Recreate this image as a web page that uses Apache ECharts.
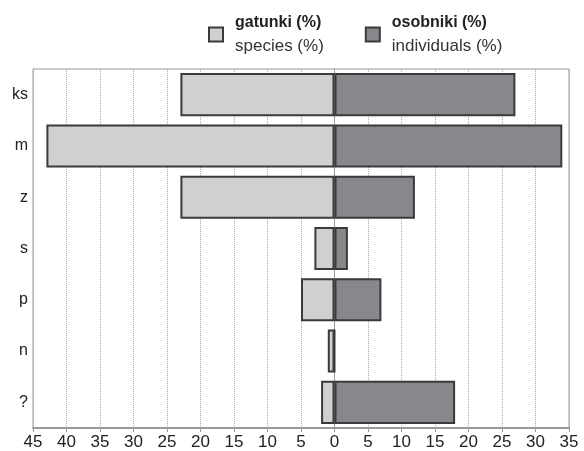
<!DOCTYPE html>
<html>
<head>
<meta charset="utf-8">
<script src="https://cdn.jsdelivr.net/npm/echarts@6/dist/echarts.min.js"></script>
<style>html,body{margin:0;padding:0;background:#fff}#c{width:584px;height:451px}</style>
</head>
<body>
<div id="c"></div>
<script>
const categories = ['ks', 'm', 'z', 's', 'p', 'n', '?'];
const speciesPct = [23, 43, 23, 3, 5, 1, 2];      // gatunki (%)
const individualsPct = [27, 34, 12, 2, 7, 0, 18]; // osobniki (%)
const seriesNames = ['gatunki (%)\nspecies (%)', 'osobniki (%)\nindividuals (%)'];

const chart = echarts.init(document.getElementById('c'), null, {renderer: 'canvas'});
const font = '"Liberation Sans", Arial, sans-serif';
chart.setOption({
  animation: false,
  textStyle: {fontFamily: font},
  legend: {
    top: 10,
    left: 203,
    itemWidth: 14,
    itemHeight: 14,
    itemGap: 41,
    icon: 'rect',
    data: seriesNames,
    formatter: function (name) {
      const parts = name.split('\n');
      return '{b|' + parts[0] + '}\n{n|' + parts[1] + '}';
    },
    textStyle: {
      padding: [0, 0, 0, 7],
      rich: {
        b: {fontSize: 16, fontWeight: 'bold', color: '#222', fontFamily: font, lineHeight: 23},
        n: {fontSize: 17, color: '#333', fontFamily: font, lineHeight: 23}
      }
    }
  },
  grid: {left: 33, right: 15, top: 69, bottom: 20, show: true, borderColor: '#999', borderWidth: 1},
  xAxis: {
    type: 'value',
    min: -45,
    max: 35,
    interval: 5,
    axisLine: {show: true, lineStyle: {color: '#999', width: 2}},
    axisTick: {show: true, length: 4, lineStyle: {color: '#999'}},
    splitLine: {show: true, lineStyle: {color: '#aaa', type: 'dotted', width: 1}},
    axisLabel: {
      fontSize: 17, color: '#222', margin: 6, fontFamily: font,
      formatter: v => String(Math.abs(v))
    }
  },
  yAxis: {
    type: 'category',
    data: categories,
    inverse: true,
    axisLine: {show: true, lineStyle: {color: '#999'}},
    axisTick: {show: false},
    axisLabel: {fontSize: 16, color: '#222', margin: 5, fontFamily: font}
  },
  series: [
    {
      name: seriesNames[0],
      type: 'bar',
      data: speciesPct.map(v => -v),
      barWidth: '84%',
      barGap: '-100%',
      itemStyle: {color: '#cfd0d2', borderColor: '#3a3a3a', borderWidth: 2}
    },
    {
      name: seriesNames[1],
      type: 'bar',
      data: individualsPct,
      barWidth: '84%',
      itemStyle: {color: '#87888b', borderColor: '#3a3a3a', borderWidth: 2}
    }
  ]
});
</script>
</body>
</html>
